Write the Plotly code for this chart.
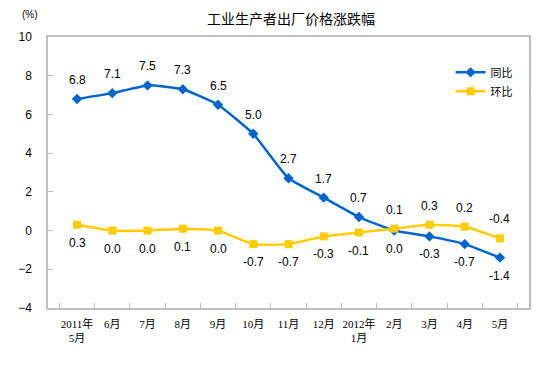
import plotly.graph_objects as go

categories = ["2011年<br>5月", "6月", "7月", "8月", "9月", "10月", "11月", "12月",
              "2012年<br>1月", "2月", "3月", "4月", "5月"]
yoy = [6.8, 7.1, 7.5, 7.3, 6.5, 5.0, 2.7, 1.7, 0.7, 0.0, -0.3, -0.7, -1.4]
mom = [0.3, 0.0, 0.0, 0.1, 0.0, -0.7, -0.7, -0.3, -0.1, 0.1, 0.3, 0.2, -0.4]
yoy_above = [True] * 9 + [False] * 4
mom_above = [False] * 9 + [True] * 4

BLUE = "#0066CC"
YELLOW = "#FFCC00"
num_font = dict(family="Liberation Sans, Arial", size=12, color="#000000")

fig = go.Figure()
fig.add_trace(go.Scatter(
    x=categories, y=yoy, name="同比", mode="lines+markers",
    line=dict(color=BLUE, width=2.5, shape="spline", smoothing=0.4),
    marker=dict(symbol="diamond", size=8, color=BLUE),
    cliponaxis=False,
))
fig.add_trace(go.Scatter(
    x=categories, y=mom, name="环比", mode="lines+markers",
    line=dict(color=YELLOW, width=2.5, shape="spline", smoothing=0.4),
    marker=dict(symbol="square", size=8, color=YELLOW),
    cliponaxis=False,
))

for series, above in ((yoy, yoy_above), (mom, mom_above)):
    for c, v, a in zip(categories, series, above):
        fig.add_annotation(x=c, y=v, text=f"{v:.1f}", showarrow=False,
                           xanchor="center", yanchor="middle",
                           yshift=19 if a else -18, font=num_font)

# page body adds an 8px offset; margins compensate so the plot area sits at x 48-529, y 37-308
fig.update_layout(
    width=554, height=372,
    margin=dict(l=40, r=33, t=29, b=72, autoexpand=False),
    paper_bgcolor="white", plot_bgcolor="white",
    showlegend=True,
    legend=dict(x=0.837, y=0.923, xanchor="left", yanchor="top", bgcolor="rgba(0,0,0,0)",
                font=dict(family="Noto Sans CJK SC", size=11, color="#000000"),
                itemwidth=30, tracegroupgap=2),
    xaxis=dict(type="category", tickson="boundaries", ticks="inside", ticklen=5,
               tickangle=0, automargin=False, ticklabelstandoff=5,
               tickcolor="#BFBFBF", showline=True, linecolor="#BFBFBF", linewidth=1.5,
               mirror=True, showgrid=False, zeroline=False,
               tickfont=dict(family="Liberation Serif, Noto Sans CJK SC", size=11, color="#000000")),
    yaxis=dict(range=[-4, 10], dtick=2, ticks="inside", ticklen=5, tickcolor="#BFBFBF",
               showline=True, linecolor="#BFBFBF", linewidth=1.5, mirror=True,
               showgrid=False, zeroline=False, automargin=False, ticklabelstandoff=12,
               tickfont=dict(family="Liberation Sans, Arial", size=12, color="#000000")),
)
fig.add_annotation(text="工业生产者出厂价格涨跌幅", xref="paper", yref="paper",
                   x=(291 - 48) / 481, y=(308 - 18) / 271,
                   xanchor="center", yanchor="middle", showarrow=False,
                   font=dict(family="Noto Sans CJK SC", size=14, color="#000000"))
fig.add_annotation(text="(%)", xref="paper", yref="paper", x=(30 - 48) / 481, y=(308 - 15) / 271,
                   xanchor="center", yanchor="middle", showarrow=False,
                   font=dict(family="Liberation Sans, Arial", size=10, color="#000000"))

fig.write_html("out.html")
